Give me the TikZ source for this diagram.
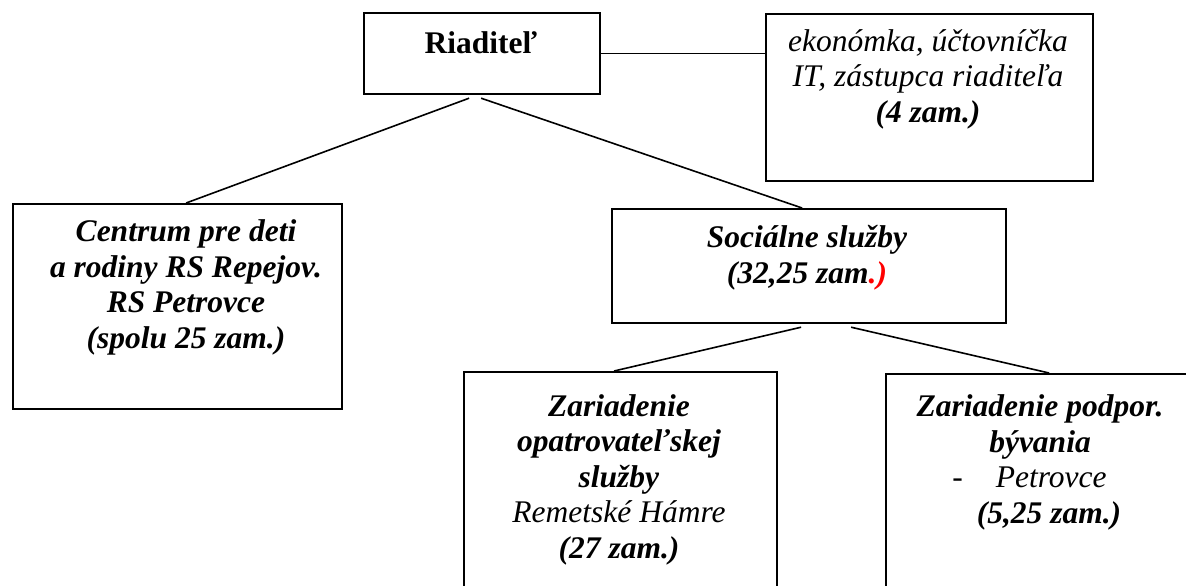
\documentclass[tikz,border=0pt]{standalone}
\usepackage{fontspec}
\setmainfont{Liberation Serif}
\tikzset{%
    unitbox/.style={draw, line width=2.2pt, inner sep=0pt, anchor=north west},
    boxtext/.style={anchor=base, align=center, inner sep=0pt, font=\fontsize{31.5}{35.5}\selectfont},
    link/.style={line width=1.6pt},
}
\newcommand{\bi}[1]{\textbf{\textit{#1}}}

\begin{document}
\begin{tikzpicture}[x=1pt, y=-1pt]

	\clip (0,0) rectangle (1186,586);

	% boxes
	\node[unitbox, minimum width=236pt, minimum height=81pt] (riad) at (363,12) {};
	\node[unitbox, minimum width=327pt, minimum height=167pt] (econ) at (765,13) {};
	\node[unitbox, minimum width=329pt, minimum height=205pt] (cent) at (12,203) {};
	\node[unitbox, minimum width=394pt, minimum height=114pt] (soc) at (611,208) {};
	\node[unitbox, minimum width=313pt, minimum height=260pt] (opat) at (463,371) {};
	\node[unitbox, minimum width=330pt, minimum height=260pt] (pod) at (885,373) {};

	% texts (anchored at the baseline of the last line)
	\node[boxtext] (riadtxt) at (481,54) {\textbf{Riaditeľ}};
	\node[boxtext] (econtxt) at (928,122) {\textit{ekonómka, účtovníčka}\\\textit{IT, zástupca riaditeľa}\\\bi{(4 zam.)}};
	\node[boxtext] (centtxt) at (186,348) {\bi{Centrum pre deti}\\\bi{a rodiny RS Repejov.}\\\bi{RS Petrovce}\\\bi{(spolu 25 zam.)}};
	\node[boxtext] (soctxt) at (807,283) {\bi{Sociálne služby}\\\bi{(32,25 zam}\textcolor{red}{\bi{.)}}};
	\node[boxtext] (opattxt) at (619,558) {\bi{Zariadenie}\\\bi{opatrovateľskej}\\\bi{služby}\\\textit{Remetské Hámre}\\\bi{(27 zam.)}};
	\node[boxtext] (podtxt) at (1040,523) {\bi{Zariadenie podpor.}\\\bi{bývania}\\-\hspace{33pt}\textit{Petrovce}\hspace{21pt}\mbox{}\\\hspace{18pt}\bi{(5,25 zam.)}};

	% connectors
	\draw[link] (riad.east) -- (riad.east -| econ.west);
	\draw[link] ([xshift=-13pt,yshift=-3pt]riad.south) -- ([xshift=8.5pt]cent.north);
	\draw[link] ([xshift=-1pt,yshift=-3pt]riad.south) -- ([xshift=-7pt]soc.north);
	\draw[link] ([xshift=-8pt,yshift=-3pt]soc.south) -- ([xshift=-6.5pt]opat.north);
	\draw[link] ([xshift=42pt,yshift=-3pt]soc.south) -- ([xshift=-2pt]pod.north);

\end{tikzpicture}
\end{document}
